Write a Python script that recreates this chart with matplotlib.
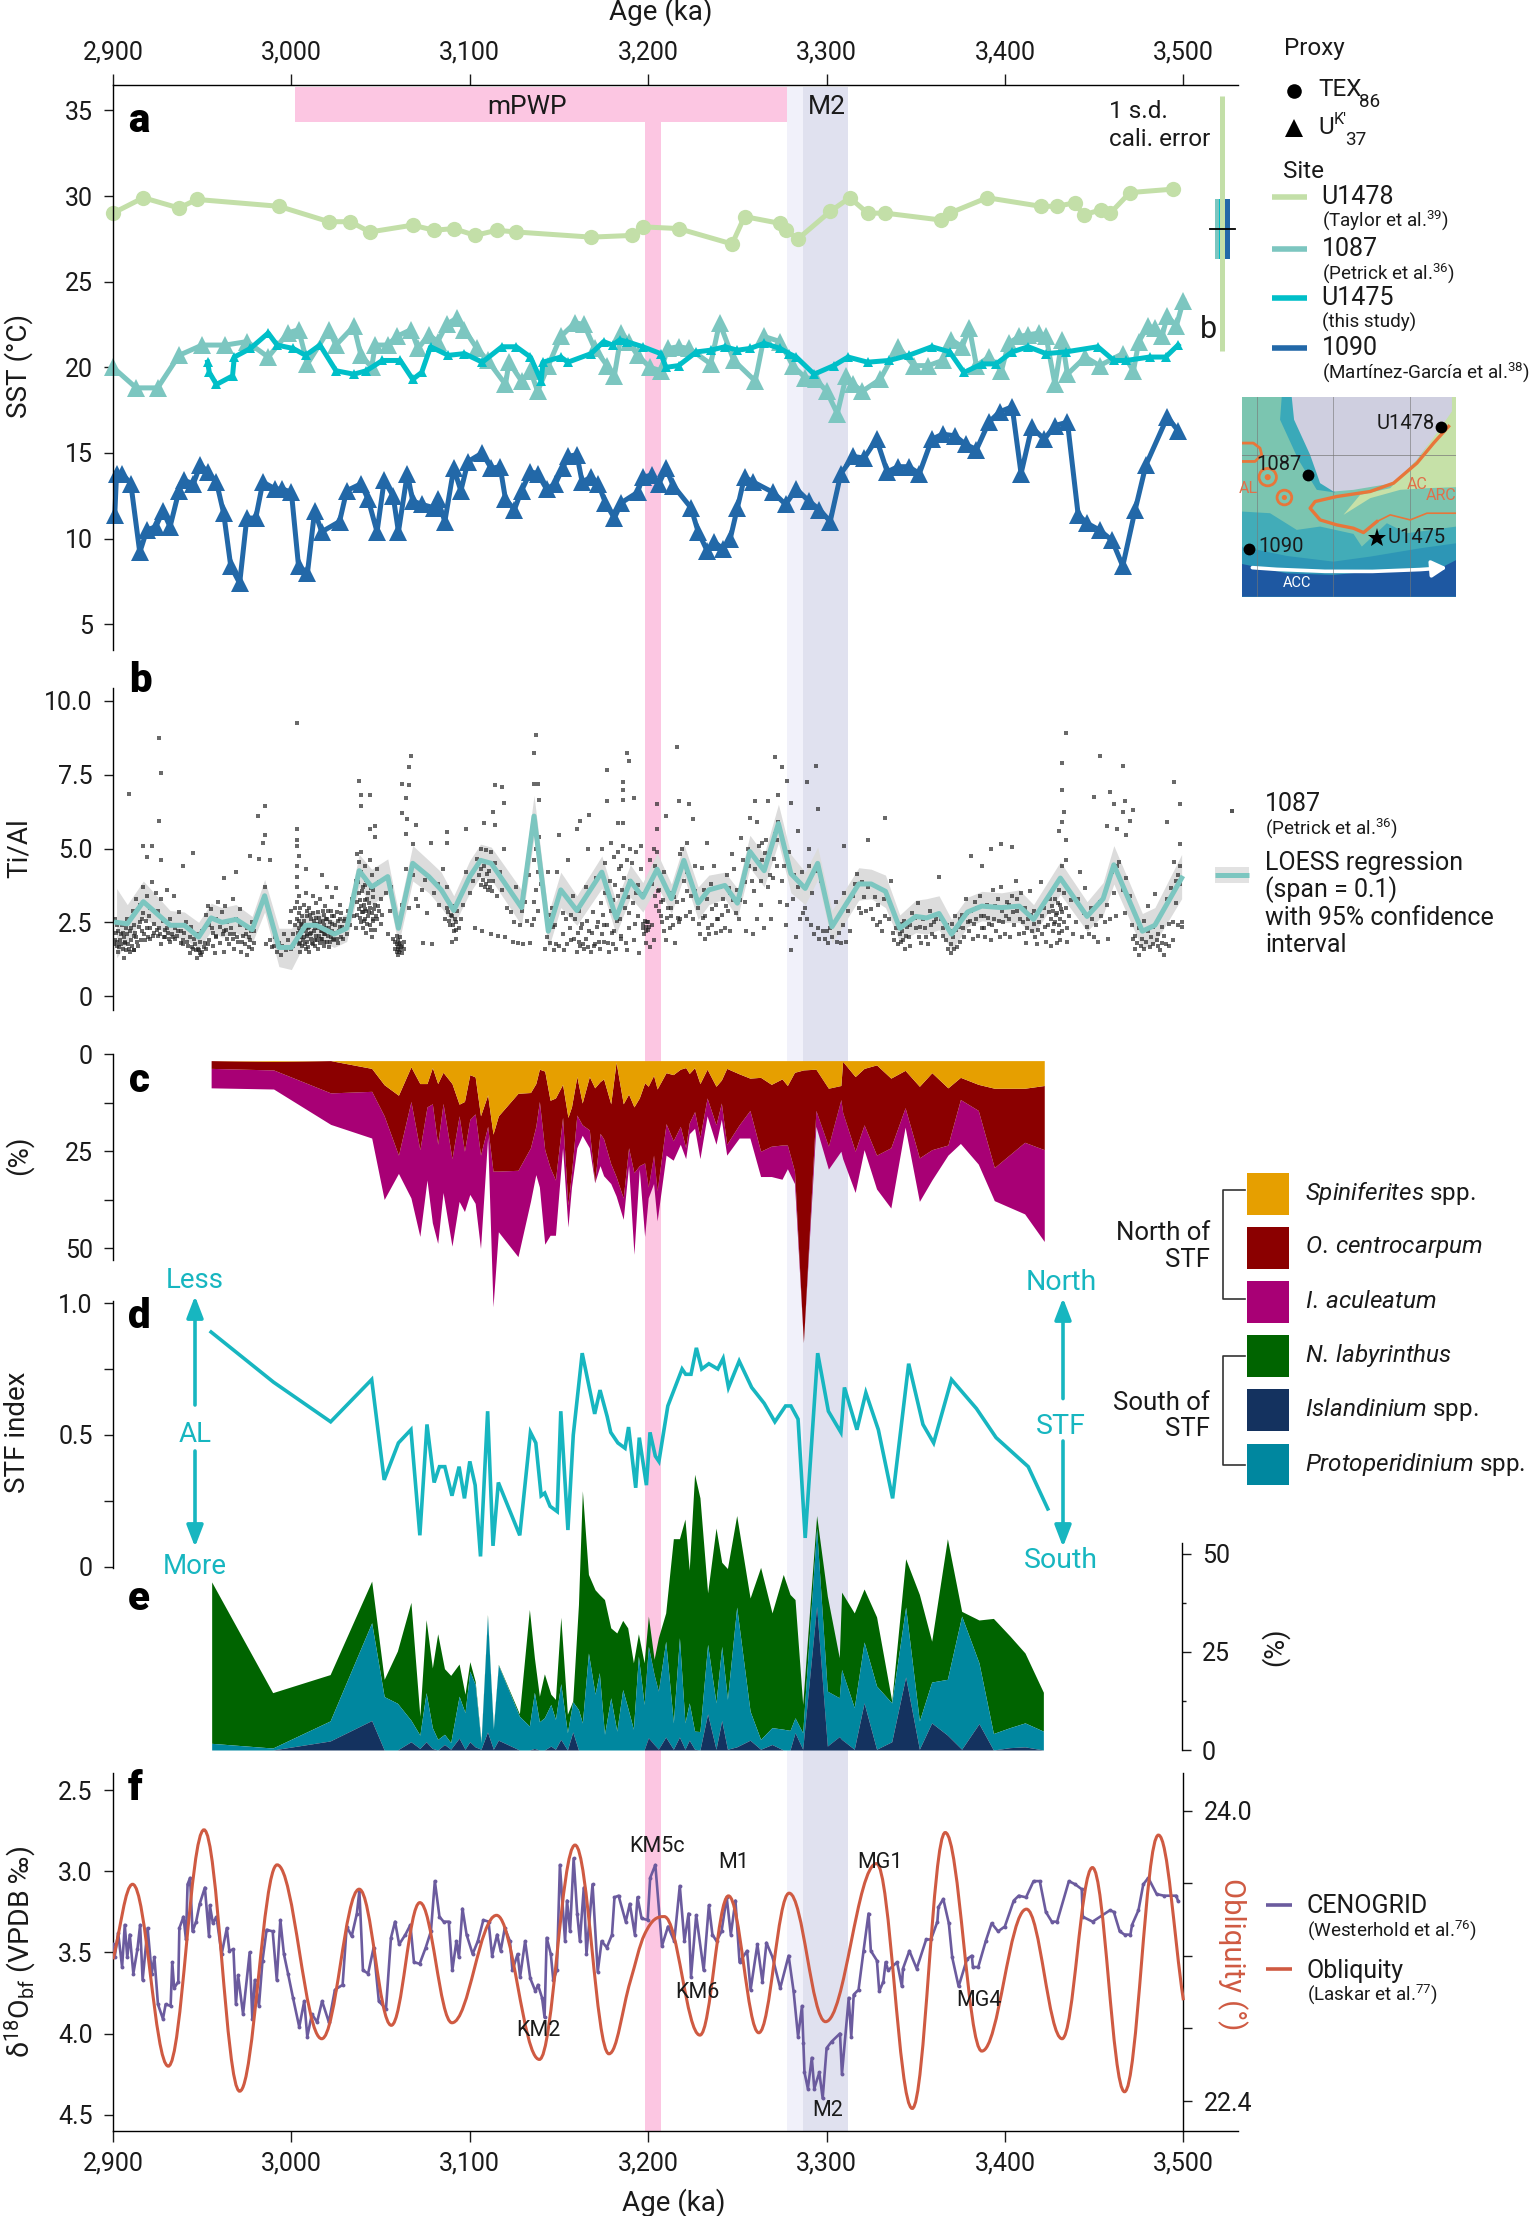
"""Pliocene SST, Ti/Al, dinocyst and benthic d18O stack (panels a-f)."""
import matplotlib
matplotlib.use('Agg')
import matplotlib.pyplot as plt
from matplotlib.patches import Circle, FancyArrowPatch, PathPatch, Polygon, Rectangle
from matplotlib.path import Path

plt.rcParams['font.family'] = ['Roboto', 'DejaVu Sans']
plt.rcParams['mathtext.fontset'] = 'custom'
plt.rcParams['mathtext.rm'] = 'Roboto'
plt.rcParams['mathtext.it'] = 'Roboto:italic'
plt.rcParams['mathtext.bf'] = 'Roboto:bold'
plt.rcParams['axes.linewidth'] = 1.0

W, H = 1532, 2216
XMIN, XMAX = 2900, 3530.6

# ----------------------------------------------------------------------
# Panel a: SST
# ----------------------------------------------------------------------
U1478_AGE = [2900, 2917, 2937, 2947, 2993, 3021, 3033, 3044, 3068, 3080, 3091, 3103, 3115, 3126, 3168, 3191,
             3197, 3217, 3247, 3254, 3274, 3277, 3284, 3302, 3313, 3323, 3333, 3364, 3369, 3390, 3420, 3429,
             3439, 3444, 3454, 3459, 3470, 3494]
U1478_SST = [29.0, 29.9, 29.3, 29.8, 29.4, 28.5, 28.5, 27.9, 28.3, 28.0, 28.1, 27.7, 28.0, 27.9, 27.6, 27.7,
             28.2, 28.1, 27.2, 28.8, 28.4, 28.0, 27.5, 29.1, 29.9, 29.0, 29.0, 28.6, 29.0, 29.9, 29.4, 29.4,
             29.6, 28.9, 29.2, 29.0, 30.2, 30.4]
S1087_AGE = [2900, 2913, 2925, 2937, 2950, 2963, 2975, 2987, 2998, 3004, 3009, 3021, 3025, 3035, 3039, 3045,
             3047, 3054, 3059, 3067, 3071, 3077, 3082, 3087, 3093, 3097, 3104, 3110, 3120, 3122, 3129, 3134,
             3138, 3144, 3151, 3159, 3164, 3170, 3177, 3181, 3185, 3189, 3194, 3201, 3207, 3211, 3217, 3223,
             3235, 3240, 3248, 3260, 3265, 3274, 3281, 3288, 3294, 3300, 3306, 3311, 3315, 3320, 3330, 3340,
             3349, 3357, 3365, 3370, 3376, 3380, 3384, 3391, 3398, 3402, 3408, 3413, 3419, 3423, 3428, 3432,
             3435, 3445, 3453, 3466, 3472, 3475, 3480, 3484, 3488, 3491, 3496, 3500]
S1087_SST = [20.0, 18.8, 18.8, 20.7, 21.3, 21.3, 21.5, 20.6, 22.0, 22.2, 20.2, 22.2, 21.3, 22.4, 20.7, 20.0,
             21.3, 21.3, 21.8, 22.2, 21.1, 21.9, 21.5, 22.5, 22.9, 22.2, 21.1, 20.4, 19.0, 20.3, 19.2, 19.8,
             18.6, 20.1, 21.8, 22.6, 22.5, 21.1, 20.1, 19.5, 22.0, 21.5, 20.7, 20.0, 19.8, 21.1, 21.2, 21.1,
             20.2, 22.6, 20.4, 19.2, 21.8, 21.5, 20.1, 19.4, 19.3, 18.6, 17.3, 19.5, 19.0, 18.6, 19.3, 21.2,
             20.1, 20.1, 20.4, 21.6, 21.2, 22.3, 20.1, 20.6, 19.8, 21.4, 21.8, 21.9, 22.0, 21.8, 19.0, 21.6,
             19.6, 20.6, 20.1, 20.8, 19.8, 21.5, 22.4, 22.3, 21.8, 23.0, 22.4, 23.9]
U1475_AGE = [2953, 2954, 2958, 2967, 2968, 2977, 2987, 2992, 3001, 3008, 3016, 3025, 3035, 3042, 3051, 3061,
             3068, 3073, 3078, 3088, 3097, 3107, 3118, 3126, 3134, 3140, 3141, 3151, 3155, 3168, 3175, 3180,
             3184, 3188, 3197, 3207, 3210, 3217, 3227, 3235, 3243, 3250, 3257, 3265, 3274, 3279, 3283, 3293,
             3304, 3312, 3323, 3335, 3346, 3359, 3369, 3377, 3387, 3395, 3404, 3413, 3423, 3434, 3452, 3461,
             3468, 3481, 3490, 3497]
U1475_SST = [20.3, 19.7, 19.0, 19.5, 20.6, 21.1, 22.0, 21.3, 21.1, 20.7, 21.3, 19.8, 19.6, 19.8, 20.4, 20.4,
             19.3, 19.7, 21.2, 20.7, 20.8, 20.3, 21.2, 21.2, 20.6, 19.2, 20.3, 20.6, 20.3, 20.8, 21.5, 21.3,
             21.6, 21.5, 21.2, 20.8, 20.0, 20.1, 20.9, 21.0, 21.2, 21.0, 21.1, 21.4, 21.1, 20.8, 20.6, 19.6,
             20.1, 20.6, 20.3, 20.4, 20.7, 21.2, 20.9, 19.7, 20.2, 20.2, 20.9, 21.2, 20.8, 20.9, 21.2, 20.4,
             20.4, 20.6, 20.6, 21.3]
S1090_AGE = [2901, 2902, 2905, 2910, 2915, 2919, 2924, 2928, 2932, 2937, 2940, 2945, 2949, 2953, 2958, 2962,
             2966, 2971, 2975, 2980, 2984, 2991, 2995, 3000, 3004, 3009, 3013, 3017, 3027, 3031, 3039, 3043,
             3048, 3052, 3057, 3060, 3065, 3068, 3073, 3080, 3082, 3086, 3091, 3095, 3099, 3107, 3112, 3117,
             3120, 3125, 3129, 3134, 3138, 3143, 3148, 3152, 3155, 3160, 3163, 3168, 3172, 3176, 3181, 3185,
             3194, 3197, 3202, 3206, 3210, 3214, 3224, 3228, 3233, 3237, 3242, 3246, 3250, 3254, 3259, 3270,
             3277, 3283, 3290, 3296, 3302, 3308, 3315, 3321, 3328, 3334, 3340, 3346, 3352, 3359, 3365, 3372,
             3378, 3384, 3391, 3397, 3404, 3409, 3415, 3422, 3428, 3435, 3441, 3446, 3453, 3460, 3466, 3473,
             3479, 3491, 3497]
S1090_SST = [11.4, 13.8, 13.8, 13.2, 9.2, 10.5, 10.7, 11.6, 10.7, 12.8, 13.4, 13.2, 14.3, 13.9, 13.3, 11.5,
             8.4, 7.4, 11.2, 11.2, 13.3, 12.9, 12.9, 12.7, 8.4, 8.0, 11.6, 10.4, 11.0, 12.8, 13.2, 12.3,
             10.4, 13.4, 12.5, 10.4, 13.8, 12.2, 12.0, 11.8, 12.3, 11.0, 14.1, 12.8, 14.5, 15.0, 14.1, 14.2,
             12.3, 11.7, 12.8, 13.9, 13.8, 12.9, 13.2, 14.1, 14.8, 14.9, 13.3, 13.6, 13.2, 12.1, 11.2, 12.1,
             12.7, 13.6, 13.7, 13.2, 14.1, 13.1, 11.8, 10.4, 9.3, 9.8, 9.4, 10.0, 11.8, 13.6, 13.3, 12.7,
             12.0, 12.9, 12.2, 11.7, 11.0, 13.8, 14.8, 14.7, 15.8, 13.9, 14.2, 14.2, 13.8, 15.8, 16.1, 16.0,
             15.5, 15.2, 16.8, 17.4, 17.7, 13.8, 16.5, 15.8, 16.6, 16.8, 11.4, 10.9, 10.5, 9.9, 8.4, 11.7,
             14.3, 17.1, 16.3]

# ----------------------------------------------------------------------
# Panel b: Ti/Al, LOESS fit and its confidence band
# ----------------------------------------------------------------------
LOESS_AGE = [2902, 2908, 2917, 2932, 2940, 2948, 2955, 2961, 2969, 2978, 2985, 2993, 3000, 3008, 3014, 3024,
             3031, 3038, 3045, 3054, 3060, 3068, 3077, 3084, 3091, 3100, 3106, 3112, 3129, 3136, 3144, 3151,
             3160, 3174, 3182, 3190, 3197, 3205, 3213, 3220, 3228, 3234, 3243, 3250, 3257, 3265, 3273, 3280,
             3288, 3295, 3303, 3318, 3325, 3333, 3341, 3350, 3356, 3363, 3370, 3379, 3387, 3398, 3408, 3416,
             3431, 3446, 3455, 3461, 3477, 3484, 3499]
LOESS_FIT = [2.5, 2.45, 3.2, 2.4, 2.4, 2.0, 2.65, 2.5, 2.6, 2.25, 3.4, 1.65, 1.65, 2.4, 2.4, 2.1,
             2.3, 4.25, 3.7, 4.05, 2.3, 4.5, 4.05, 3.6, 2.9, 4.05, 4.6, 4.5, 3.0, 6.1, 2.2, 3.6,
             2.9, 4.2, 2.65, 3.9, 3.35, 4.3, 3.3, 4.6, 3.15, 3.6, 3.75, 3.15, 4.9, 4.25, 5.85, 4.15,
             3.65, 4.5, 2.35, 3.8, 3.8, 3.55, 2.3, 2.7, 2.65, 2.8, 2.1, 2.85, 3.05, 3.0, 3.05, 2.6,
             4.0, 2.7, 3.3, 4.45, 2.2, 2.4, 4.0]
LOESS_LOW = [1.3, 1.8, 2.7, 2.0, 1.95, 1.6, 2.2, 2.0, 2.15, 1.8, 2.85, 1.0, 0.9, 1.85, 1.9, 1.65,
             1.85, 3.7, 3.1, 3.5, 1.75, 3.9, 3.5, 3.0, 2.4, 3.5, 4.05, 3.95, 2.4, 5.4, 1.6, 3.0,
             2.4, 3.65, 2.1, 3.35, 2.85, 3.75, 2.8, 4.05, 2.6, 3.1, 3.3, 2.65, 4.35, 3.7, 5.2, 3.5,
             3.1, 3.95, 1.8, 3.25, 3.3, 3.0, 1.85, 2.15, 2.1, 2.25, 1.55, 2.35, 2.55, 2.5, 2.5, 2.1,
             3.45, 2.2, 2.75, 3.8, 1.6, 1.8, 3.3]
LOESS_HIGH = [3.65, 3.1, 3.9, 2.9, 2.85, 2.5, 3.15, 3.0, 3.1, 2.7, 3.95, 2.3, 2.3, 2.9, 2.9, 2.55,
              2.8, 4.8, 4.3, 4.65, 2.85, 5.1, 4.6, 4.2, 3.4, 4.6, 5.15, 5.05, 3.6, 6.8, 2.8, 4.2,
              3.4, 4.75, 3.2, 4.45, 3.85, 4.85, 3.8, 5.15, 3.7, 4.1, 4.2, 3.65, 5.45, 4.8, 6.5, 4.8,
              4.2, 5.05, 2.9, 4.35, 4.3, 4.1, 2.75, 3.25, 3.3, 3.4, 2.6, 3.35, 3.55, 3.5, 3.6, 3.1,
              4.55, 3.2, 3.85, 5.1, 2.8, 3.0, 4.8]
TI_HIGH_POINTS = [(2909, 6.85), (2926, 8.75), (2927, 7.55), (2926, 5.95), (2917, 5.1), (2922, 5.1), (2919, 4.7),
                  (2927, 4.6), (2945, 4.85), (2939, 4.4), (2985, 6.45), (2981, 6.1), (2985, 5.45), (2984, 5.2),
                  (2977, 4.75), (2982, 4.65), (2988, 4.6), (2969, 4.2), (2962, 4.0), (3003, 9.25), (3003, 5.65),
                  (3003, 5.3), (3003, 5.1), (3004, 4.75), (3003, 4.4), (3008, 4.3), (3017, 4.1), (3038, 7.3),
                  (3039, 6.8), (3044, 6.8), (3039, 6.45), (3047, 5.75), (3044, 5.65), (3062, 7.2), (3066, 7.15),
                  (3067, 8.15), (3066, 7.75), (3064, 6.7), (3062, 6.2), (3065, 6.0), (3070, 5.8), (3064, 5.5),
                  (3068, 5.15), (3078, 5.2), (3087, 5.55), (3087, 5.2), (3098, 5.65), (3114, 7.15), (3118, 7.1),
                  (3108, 5.85), (3114, 5.8), (3113, 6.25), (3119, 6.55), (3137, 8.85), (3136, 8.25), (3136, 7.2),
                  (3138, 7.2), (3139, 6.65), (3162, 5.95), (3167, 6.15), (3150, 5.45), (3160, 5.65), (3177, 7.65),
                  (3188, 8.25), (3189, 7.95), (3186, 7.25), (3186, 7.0), (3177, 6.6), (3186, 6.65), (3192, 6.7),
                  (3183, 5.85), (3186, 5.85), (3205, 6.5), (3210, 6.1), (3216, 8.45), (3217, 6.6), (3223, 6.5),
                  (3225, 6.0), (3260, 6.6), (3257, 6.05), (3271, 8.1), (3275, 7.75), (3278, 7.3), (3273, 6.8),
                  (3267, 6.6), (3280, 6.55), (3261, 5.9), (3294, 7.8), (3289, 7.25), (3295, 6.35), (3333, 6.05),
                  (3310, 5.1), (3323, 5.3), (3434, 8.9), (3432, 7.9), (3432, 7.0), (3433, 6.25), (3432, 5.9),
                  (3430, 5.6), (3434, 5.3), (3453, 8.15), (3466, 7.8), (3450, 6.75), (3459, 6.9), (3461, 6.5),
                  (3467, 6.6), (3466, 6.25), (3472, 6.3), (3470, 5.95), (3457, 5.75), (3463, 5.65), (3468, 5.45),
                  (3495, 7.25), (3498, 6.5), (3491, 5.9), (3498, 5.15), (3392, 5.0), (3398, 5.15), (3404, 5.05),
                  (3381, 4.75), (3387, 4.4), (3272, 5.3), (3284, 5.6), (3276, 5.1), (3290, 5.0), (3264, 5.2),
                  (3252, 5.35), (3247, 4.8), (3233, 5.2), (3222, 5.2), (3205, 5.65), (3196, 5.1), (3190, 5.0)]
TI_CLOUD_2900 = [(2901, 1.9), (2901, 2.6), (2902, 1.7), (2903, 2.2), (2903, 1.5), (2904, 1.9), (2905, 2.4), (2906, 1.3),
                 (2906, 2.0), (2907, 1.8), (2908, 2.1), (2908, 2.6), (2909, 1.6), (2910, 2.3), (2910, 1.9), (2911, 2.9),
                 (2912, 2.4), (2912, 1.55), (2913, 3.3), (2913, 2.0), (2914, 1.7), (2915, 2.5), (2915, 3.1), (2916, 2.2),
                 (2917, 3.7), (2917, 2.8), (2918, 1.9), (2919, 3.4), (2919, 2.3), (2920, 2.7), (2921, 3.0), (2921, 1.95),
                 (2922, 3.85), (2923, 2.45), (2923, 2.15), (2924, 3.5), (2925, 2.05), (2925, 2.9), (2926, 2.3), (2927, 1.75),
                 (2927, 3.3), (2928, 2.55), (2929, 2.0), (2929, 2.25), (2930, 3.6), (2931, 2.15), (2932, 1.85), (2932, 2.6),
                 (2933, 2.1), (2934, 3.4), (2935, 1.95), (2935, 2.3), (2936, 2.05), (2937, 2.85), (2938, 2.2), (2938, 1.8),
                 (2939, 1.9), (2940, 2.15), (2941, 2.5), (2942, 1.7), (2943, 1.45), (2943, 2.0), (2944, 2.35), (2945, 1.6),
                 (2946, 1.75), (2947, 1.3), (2947, 2.1), (2948, 1.55), (2949, 1.85), (2950, 1.5), (2950, 2.2), (2951, 1.65),
                 (2952, 2.75), (2952, 1.6), (2953, 3.05), (2954, 2.4), (2954, 1.9), (2955, 2.95), (2956, 2.15), (2956, 1.7),
                 (2957, 1.45), (2958, 2.6), (2958, 2.0), (2959, 3.2), (2960, 1.8), (2960, 2.35), (2961, 2.85), (2962, 1.5),
                 (2962, 2.2), (2963, 3.05), (2964, 2.5), (2964, 1.95), (2965, 1.75), (2966, 2.3), (2967, 3.3), (2968, 1.6),
                 (2968, 2.1), (2969, 2.6), (2970, 1.85), (2971, 2.4), (2971, 2.95), (2972, 1.5), (2973, 2.05), (2974, 1.75),
                 (2975, 2.3), (2975, 1.4), (2976, 2.0), (2977, 1.9), (2978, 2.5), (2978, 1.6), (2979, 2.2), (2979, 1.8),
                 (2985, 3.7), (2985, 3.3), (2986, 1.75), (2988, 1.9), (2989, 1.65), (2990, 1.7), (2991, 2.0), (2992, 1.5),
                 (2993, 1.8), (2994, 1.4), (2995, 1.7), (2996, 2.1), (2997, 1.55), (2998, 1.9)]
TI_DENSE_2900 = [(2900.5, 1.75), (2901.5, 2.15), (2902.5, 1.85), (2902.5, 2.4), (2903.5, 1.65), (2904.5, 2.1), (2904.5, 1.75),
                 (2905.5, 1.6), (2905.5, 2.15), (2906.5, 1.85), (2907.5, 1.55), (2907.5, 2.3), (2908.5, 1.75), (2909.5, 2.2),
                 (2909.5, 1.5), (2910.5, 1.7), (2911.5, 2.05), (2911.5, 1.55), (2912.5, 2.15), (2913.5, 1.85), (2914.5, 2.35),
                 (2915.5, 1.9), (2916.5, 2.6), (2917.5, 2.1), (2918.5, 2.55), (2919.5, 2.0), (2920.5, 2.3), (2922.5, 2.05),
                 (2924.5, 2.25), (2926.5, 2.1), (2928.5, 2.0), (2930.5, 2.3), (2931.5, 1.95), (2933.5, 2.0), (2936.5, 2.2),
                 (2939.5, 1.75), (2941.5, 1.85), (2944.5, 1.65), (2945.5, 1.95), (2946.5, 1.55), (2947.5, 1.6), (2948.5, 1.45),
                 (2949.5, 1.4), (2951.5, 1.8), (2953.5, 1.75), (2955.5, 2.3), (2957.5, 2.05), (2961.5, 2.1), (2963.5, 2.25),
                 (2965.5, 2.1), (2967.5, 1.95), (2969.5, 2.0), (2972.5, 1.85), (2974.5, 2.1), (2976.5, 1.65), (2977.5, 2.2)]
TI_CLOUD_3000 = [(2999, 2.5), (3000, 1.6), (3000, 2.9), (3001, 2.1), (3001, 1.7), (3002, 2.4), (3002, 3.0), (3003, 1.9),
                 (3003, 2.6), (3003, 3.2), (3003, 3.7), (3003, 4.05), (3004, 2.0), (3004, 2.3), (3004, 2.8), (3004, 3.4),
                 (3005, 1.5), (3005, 1.8), (3005, 2.2), (3005, 3.0), (3006, 2.7), (3006, 1.7), (3006, 2.4), (3007, 2.0),
                 (3007, 3.1), (3007, 2.55), (3008, 1.6), (3008, 2.25), (3008, 3.5), (3009, 1.85), (3009, 2.9), (3009, 2.1),
                 (3010, 1.5), (3010, 2.35), (3010, 3.0), (3011, 2.6), (3011, 1.95), (3011, 2.15), (3012, 1.75), (3012, 2.8),
                 (3012, 3.4), (3013, 2.45), (3013, 1.9), (3014, 2.05), (3014, 3.15), (3014, 2.65), (3015, 1.6), (3015, 2.3),
                 (3015, 2.85), (3016, 1.8), (3016, 2.5), (3016, 3.3), (3017, 2.2), (3017, 1.95), (3018, 2.75), (3018, 1.7),
                 (3018, 2.4), (3019, 3.05), (3019, 2.1), (3020, 1.85), (3020, 2.6), (3020, 3.7), (3021, 2.3), (3021, 1.65),
                 (3022, 2.9), (3022, 2.0), (3023, 2.45), (3023, 3.35), (3024, 1.9), (3024, 2.7), (3025, 2.15), (3025, 3.65),
                 (3026, 2.55), (3026, 1.8), (3027, 2.35), (3027, 3.1), (3028, 2.0), (3028, 2.8), (3029, 2.25), (3029, 1.95),
                 (3030, 2.6), (3031, 2.1), (3032, 2.9), (3033, 2.4), (3034, 3.3), (3035, 2.7), (3036, 3.9), (3036, 2.3),
                 (3037, 4.8), (3037, 3.2), (3037, 2.75), (3038, 4.55), (3038, 3.5), (3038, 2.95), (3039, 4.9), (3039, 4.2),
                 (3039, 3.05), (3039, 2.5), (3040, 3.7), (3040, 2.85), (3040, 2.3), (3041, 4.4), (3041, 3.25), (3041, 2.6),
                 (3042, 3.95), (3042, 2.9), (3042, 2.15), (3043, 3.5), (3043, 2.7), (3044, 4.6), (3044, 3.0), (3044, 2.4),
                 (3045, 4.1), (3045, 2.8), (3045, 2.0), (3046, 3.6), (3046, 2.55), (3047, 5.4), (3047, 3.1), (3047, 2.25),
                 (3048, 4.3), (3048, 2.6), (3049, 3.85), (3049, 2.9), (3050, 3.3), (3050, 2.45), (3051, 2.75), (3053, 3.5),
                 (3054, 2.1), (3055, 2.9), (3056, 3.7), (3057, 1.95), (3058, 1.6), (3058, 1.85), (3059, 1.5), (3059, 1.75),
                 (3059, 2.05), (3060, 1.4), (3060, 1.65), (3060, 1.9), (3061, 1.55), (3061, 1.8), (3061, 2.0), (3062, 1.45),
                 (3062, 1.7), (3062, 3.1), (3063, 1.6), (3063, 1.85), (3064, 4.3), (3066, 3.0), (3068, 4.1), (3070, 3.3),
                 (3071, 3.05), (3073, 3.6), (3074, 1.8), (3075, 3.95), (3076, 2.8), (3079, 1.75), (3080, 3.5), (3082, 3.8),
                 (3083, 3.1), (3085, 4.3), (3086, 2.6), (3087, 3.0), (3087, 3.7), (3088, 2.85), (3089, 2.4), (3090, 1.85),
                 (3090, 2.7), (3091, 2.2), (3091, 3.05), (3092, 2.5), (3092, 1.95), (3093, 2.9), (3094, 2.3), (3095, 2.6),
                 (3096, 3.1), (3098, 4.2), (3100, 3.5), (3102, 3.9), (3103, 2.3), (3104, 4.65), (3105, 4.1), (3106, 3.75),
                 (3106, 5.0), (3107, 2.2), (3108, 4.4), (3109, 3.8), (3109, 4.95), (3110, 3.6), (3111, 4.25), (3112, 2.1),
                 (3112, 4.9), (3113, 3.9), (3114, 4.5), (3115, 3.4), (3116, 2.05), (3117, 4.2), (3118, 3.6), (3119, 5.0),
                 (3120, 2.0), (3121, 3.0), (3123, 2.85), (3124, 1.85), (3125, 2.5), (3126, 3.7), (3127, 1.8), (3128, 2.4),
                 (3129, 2.9), (3130, 1.75), (3131, 3.2), (3132, 2.55), (3133, 4.1), (3134, 1.8), (3135, 2.4), (3136, 2.6),
                 (3136, 3.2), (3136, 4.6), (3137, 3.6), (3137, 5.0), (3138, 2.9), (3138, 4.2), (3139, 5.4), (3140, 3.8)]
TI_DENSE_3000 = [(3003.5, 2.15), (3004.5, 2.55), (3004.5, 1.75), (3005.5, 2.45), (3005.5, 2.0), (3006.5, 1.9), (3006.5, 2.2),
                 (3007.5, 1.75), (3007.5, 2.35), (3008.5, 2.05), (3008.5, 2.7), (3009.5, 2.3), (3009.5, 1.65), (3010.5, 2.1),
                 (3010.5, 2.75), (3011.5, 1.8), (3011.5, 2.4), (3012.5, 2.2), (3012.5, 2.55), (3013.5, 1.7), (3013.5, 2.3),
                 (3014.5, 2.45), (3014.5, 1.9), (3015.5, 2.05), (3015.5, 2.65), (3016.5, 2.2), (3016.5, 1.95), (3017.5, 2.55),
                 (3017.5, 2.9), (3018.5, 2.1), (3018.5, 1.85), (3019.5, 2.6), (3019.5, 2.3), (3020.5, 2.05), (3020.5, 2.9),
                 (3021.5, 2.5), (3021.5, 1.85), (3022.5, 2.2), (3022.5, 2.7), (3023.5, 1.95), (3023.5, 2.15), (3024.5, 2.4),
                 (3025.5, 2.85), (3025.5, 1.95), (3026.5, 2.2), (3027.5, 2.6), (3028.5, 2.35), (3029.5, 2.55), (3037.5, 3.85),
                 (3038.5, 3.25), (3038.5, 2.65), (3039.5, 3.55), (3039.5, 2.85), (3040.5, 3.1), (3040.5, 2.55), (3041.5, 3.75),
                 (3041.5, 2.95), (3042.5, 3.3), (3042.5, 2.45), (3043.5, 3.15), (3043.5, 2.85), (3044.5, 3.65), (3044.5, 2.25),
                 (3045.5, 3.35), (3045.5, 2.6), (3046.5, 2.95), (3047.5, 2.7), (3048.5, 3.05), (3059.5, 1.6), (3060.5, 1.75),
                 (3060.5, 1.5), (3061.5, 1.65), (3088.5, 2.55), (3089.5, 2.75), (3090.5, 2.4), (3091.5, 2.6), (3092.5, 2.25),
                 (3106.5, 4.3), (3107.5, 3.95), (3108.5, 3.7), (3109.5, 4.15), (3110.5, 3.9), (3111.5, 3.7), (3112.5, 3.55)]
TI_CLOUD_3150 = [(3142, 1.6), (3143, 2.0), (3144, 4.2), (3145, 1.8), (3146, 3.0), (3147, 1.55), (3148, 2.4), (3149, 4.2),
                 (3150, 1.7), (3151, 3.5), (3152, 2.1), (3153, 1.55), (3154, 2.6), (3155, 4.6), (3156, 2.3), (3157, 1.9),
                 (3158, 3.4), (3159, 2.6), (3160, 1.5), (3161, 1.85), (3161, 2.9), (3162, 1.7), (3163, 2.45), (3164, 1.6),
                 (3165, 3.7), (3165, 1.95), (3166, 5.0), (3167, 2.2), (3168, 1.5), (3169, 2.85), (3170, 1.75), (3171, 4.0),
                 (3172, 2.5), (3173, 1.6), (3174, 5.0), (3174, 2.1), (3175, 1.85), (3176, 3.5), (3176, 4.5), (3177, 2.4),
                 (3178, 1.5), (3179, 5.2), (3179, 2.9), (3180, 1.75), (3181, 4.7), (3181, 2.2), (3182, 1.6), (3183, 4.9),
                 (3183, 3.4), (3184, 2.6), (3185, 1.95), (3185, 4.4), (3186, 5.1), (3187, 3.0), (3188, 1.55), (3188, 4.6),
                 (3189, 2.3), (3190, 3.9), (3191, 4.5), (3192, 1.9), (3193, 3.5), (3193, 4.9), (3194, 2.7), (3195, 1.45),
                 (3196, 4.3), (3197, 2.45), (3197, 2.3), (3198, 2.55), (3199, 2.35), (3199, 1.8), (3200, 2.5), (3200, 2.25),
                 (3201, 4.6), (3201, 1.65), (3202, 2.4), (3202, 3.8), (3203, 5.0), (3203, 1.9), (3204, 3.4), (3204, 4.4),
                 (3205, 4.9), (3206, 3.6), (3206, 2.9), (3207, 2.7), (3207, 3.2), (3208, 2.5), (3209, 4.2), (3209, 2.2),
                 (3210, 1.9), (3211, 3.0), (3212, 2.3), (3213, 3.5), (3213, 2.7), (3214, 2.4), (3215, 1.8), (3216, 3.2),
                 (3217, 2.5), (3218, 4.8), (3218, 2.6), (3219, 5.0), (3220, 3.9), (3221, 2.7), (3222, 4.2), (3224, 3.4),
                 (3225, 2.6), (3226, 4.4), (3228, 3.0), (3229, 2.1), (3230, 4.35), (3231, 3.6), (3232, 2.7), (3232, 1.95),
                 (3233, 3.3), (3234, 2.1), (3235, 3.8), (3236, 2.4), (3237, 4.4), (3238, 3.1), (3238, 2.15), (3239, 2.6),
                 (3240, 3.7), (3241, 2.2), (3242, 3.3), (3243, 2.3), (3244, 4.1), (3245, 2.9), (3246, 3.5), (3246, 2.2),
                 (3248, 4.3), (3249, 2.8), (3250, 3.6), (3251, 2.6), (3253, 4.6), (3254, 3.2), (3255, 2.2), (3256, 5.0),
                 (3258, 3.9), (3259, 2.1), (3260, 4.3), (3261, 2.6), (3262, 5.1), (3263, 3.1), (3264, 4.6), (3265, 2.3),
                 (3266, 5.3), (3267, 3.7), (3268, 4.9), (3269, 2.6), (3270, 4.0), (3271, 5.5), (3272, 4.4), (3273, 5.9),
                 (3274, 3.2), (3275, 3.9), (3276, 4.4), (3277, 2.4), (3278, 3.1), (3279, 4.9), (3280, 1.55), (3281, 3.3)]
TI_DENSE_3150 = [(3144.5, 2.75), (3146.5, 2.35), (3148.5, 1.75), (3152.5, 2.8), (3154.5, 1.75), (3156.5, 2.75), (3158.5, 1.95),
                 (3160.5, 2.15), (3162.5, 2.3), (3163.5, 1.75), (3165.5, 2.55), (3166.5, 1.65), (3168.5, 2.15), (3169.5, 1.7),
                 (3171.5, 2.35), (3172.5, 1.85), (3173.5, 3.15), (3174.5, 2.75), (3175.5, 2.4), (3177.5, 1.8), (3178.5, 3.9),
                 (3179.5, 2.15), (3180.5, 3.25), (3181.5, 3.75), (3182.5, 2.55), (3183.5, 4.3), (3184.5, 2.05), (3185.5, 3.6),
                 (3186.5, 4.0), (3187.5, 1.8), (3188.5, 3.35), (3189.5, 2.8), (3191.5, 3.15), (3192.5, 2.45), (3194.5, 3.75),
                 (3196.5, 3.45), (3197.5, 2.1), (3198.5, 2.2), (3199.5, 2.5), (3200.5, 2.35), (3204.5, 3.05), (3205.5, 3.55),
                 (3206.5, 4.1), (3208.5, 3.25), (3210.5, 2.65), (3212.5, 3.0), (3214.5, 3.35), (3216.5, 2.65), (3219.5, 3.25),
                 (3221.5, 3.55), (3223.5, 2.85), (3226.5, 3.55), (3228.5, 2.45), (3230.5, 2.65), (3233.5, 2.3), (3235.5, 2.95),
                 (3238.5, 2.6), (3241.5, 2.75), (3243.5, 3.05), (3245.5, 3.65), (3247.5, 3.25), (3251.5, 3.25), (3254.5, 3.85),
                 (3256.5, 4.4), (3259.5, 3.55), (3261.5, 4.55), (3263.5, 3.9), (3265.5, 4.85), (3268.5, 4.1), (3270.5, 4.65)]
TI_CLOUD_3280 = [(3282, 4.1), (3283, 2.0), (3284, 3.7), (3285, 2.6), (3286, 4.2), (3287, 2.8), (3288, 3.0), (3289, 2.6),
                 (3290, 4.4), (3291, 2.4), (3292, 3.5), (3293, 2.1), (3294, 4.25), (3295, 2.3), (3296, 1.95), (3297, 3.9),
                 (3298, 2.2), (3299, 1.95), (3300, 2.2), (3301, 1.8), (3302, 2.3), (3303, 2.0), (3305, 3.2), (3306, 1.85),
                 (3307, 2.15), (3308, 1.8), (3309, 2.4), (3310, 3.5), (3311, 1.85), (3312, 2.9), (3313, 2.2), (3315, 3.4),
                 (3316, 3.8), (3317, 4.15), (3318, 3.0), (3319, 2.8), (3320, 3.85), (3321, 3.35), (3322, 2.9), (3323, 3.7),
                 (3325, 2.95), (3326, 2.6), (3327, 3.35), (3328, 2.4), (3329, 3.1), (3330, 2.5), (3331, 2.2), (3332, 3.3),
                 (3333, 2.7), (3335, 2.6), (3336, 3.9), (3337, 2.15), (3338, 1.9), (3339, 2.3), (3340, 1.75), (3341, 2.1),
                 (3342, 2.45), (3343, 1.9), (3344, 1.6), (3345, 2.35), (3346, 2.0), (3347, 1.7), (3348, 2.8), (3350, 2.3),
                 (3351, 3.15), (3352, 2.0), (3353, 1.8), (3354, 2.6), (3355, 2.3), (3357, 1.75), (3358, 2.9), (3359, 2.1),
                 (3360, 2.5), (3361, 2.0), (3363, 4.05), (3364, 2.6), (3365, 2.3), (3367, 1.9), (3368, 1.6), (3369, 2.2),
                 (3370, 1.45), (3371, 2.0), (3372, 2.7), (3373, 1.65), (3374, 2.35), (3375, 1.85), (3376, 2.75), (3377, 2.0),
                 (3378, 3.3), (3379, 2.5), (3380, 2.2), (3381, 2.9), (3382, 1.95), (3383, 3.2), (3384, 2.6), (3385, 2.05),
                 (3386, 3.4), (3387, 2.3), (3388, 2.7), (3389, 2.0), (3390, 3.1), (3391, 2.45), (3392, 1.9), (3393, 3.6),
                 (3394, 2.6), (3395, 2.2), (3396, 3.3), (3397, 2.0), (3398, 3.7), (3399, 2.5), (3400, 2.1), (3401, 3.2),
                 (3402, 2.6), (3403, 2.0), (3404, 3.4), (3405, 2.4), (3406, 3.9), (3407, 2.9), (3408, 2.1), (3409, 3.5),
                 (3410, 2.5), (3411, 3.0), (3412, 1.8), (3413, 2.6), (3414, 3.55), (3415, 2.2), (3416, 2.9), (3417, 2.0),
                 (3418, 1.75), (3419, 2.5), (3420, 3.85), (3421, 2.1), (3422, 3.0), (3423, 1.85), (3424, 2.4), (3425, 3.3),
                 (3426, 2.6), (3426, 1.7), (3427, 2.9), (3427, 2.2), (3428, 3.3), (3428, 2.5), (3429, 1.8), (3429, 2.8)]
TI_DENSE_3340 = [(3340.5, 2.35), (3341.5, 1.85), (3342.5, 2.2), (3343.5, 2.55), (3344.5, 2.05), (3346.5, 2.4), (3349.5, 2.65),
                 (3352.5, 2.35), (3355.5, 2.0), (3358.5, 2.4), (3361.5, 2.6), (3365.5, 2.05), (3367.5, 2.4), (3369.5, 1.75),
                 (3370.5, 2.45), (3371.5, 1.6), (3372.5, 2.25), (3374.5, 2.6), (3376.5, 2.3), (3378.5, 2.8), (3380.5, 2.55),
                 (3382.5, 2.45), (3384.5, 3.0), (3386.5, 2.7), (3388.5, 2.3), (3390.5, 2.65), (3392.5, 2.4), (3394.5, 3.05),
                 (3396.5, 2.55), (3398.5, 2.9), (3400.5, 2.7), (3402.5, 3.1), (3404.5, 2.85), (3406.5, 3.3), (3408.5, 2.6),
                 (3410.5, 2.15), (3412.5, 2.3), (3414.5, 2.75), (3416.5, 2.45), (3418.5, 2.25), (3420.5, 2.7), (3422.5, 2.35),
                 (3424.5, 2.85), (3426.5, 3.05), (3427.5, 2.45), (3428.5, 2.75), (3429.5, 3.15), (3430.5, 2.15), (3431.5, 2.95)]
TI_CLOUD_3430 = [(3430, 3.6), (3430, 2.4), (3431, 2.6), (3431, 3.1), (3431, 1.9), (3432, 2.2), (3432, 2.85), (3432, 4.4),
                 (3433, 3.5), (3433, 2.5), (3434, 4.6), (3434, 3.0), (3435, 1.85), (3435, 2.3), (3436, 2.7), (3437, 3.25),
                 (3438, 2.1), (3440, 2.5), (3441, 3.3), (3442, 4.2), (3443, 2.0), (3444, 2.8), (3445, 3.65), (3446, 2.35),
                 (3447, 2.1), (3448, 3.0), (3449, 2.6), (3450, 2.0), (3451, 2.4), (3452, 1.85), (3453, 3.2), (3454, 2.7),
                 (3456, 2.5), (3457, 3.1), (3458, 1.95), (3459, 2.6), (3460, 4.2), (3461, 3.5), (3462, 2.7), (3463, 4.4),
                 (3464, 4.55), (3466, 3.6), (3467, 2.8), (3468, 4.0), (3470, 3.4), (3471, 2.4), (3472, 1.95), (3473, 1.6),
                 (3473, 2.05), (3474, 1.8), (3475, 1.4), (3475, 2.3), (3476, 1.7), (3477, 1.95), (3478, 2.55), (3478, 1.6),
                 (3479, 1.85), (3480, 2.2), (3480, 3.05), (3481, 1.65), (3482, 2.0), (3483, 1.75), (3483, 2.35), (3484, 3.45),
                 (3485, 1.9), (3486, 1.7), (3486, 2.1), (3487, 1.55), (3488, 2.35), (3488, 1.8), (3489, 1.4), (3489, 2.05),
                 (3490, 1.75), (3491, 3.3), (3492, 2.45), (3492, 1.7), (3493, 3.65), (3494, 2.5), (3494, 1.9), (3495, 4.55),
                 (3496, 3.15), (3497, 2.4), (3498, 4.4), (3498, 3.8), (3499, 2.5), (3499, 2.35), (3496, 3.9), (3497, 4.1)]

# ----------------------------------------------------------------------
# Panel c: cumulative dinocyst percentages (top down)
# ----------------------------------------------------------------------
NORTH_AGE = [2955, 2990, 3022, 3045, 3052, 3060, 3067, 3072, 3076, 3079, 3082, 3085, 3090, 3094, 3097, 3100,
             3103, 3106, 3110, 3113, 3116, 3127, 3134, 3137, 3139, 3142, 3145, 3148, 3152, 3155, 3157, 3160,
             3163, 3167, 3170, 3173, 3175, 3179, 3182, 3186, 3189, 3192, 3195, 3198, 3200, 3203, 3205, 3210,
             3214, 3218, 3221, 3223, 3226, 3229, 3233, 3238, 3241, 3244, 3251, 3257, 3263, 3269, 3275, 3278,
             3282, 3287, 3294, 3301, 3308, 3309, 3316, 3321, 3328, 3336, 3344, 3352, 3359, 3368, 3375, 3385,
             3394, 3411, 3422]
SPIN_EDGE = [1.7, 1.9, 1.7, 3.7, 7.9, 10.6, 3.3, 7.6, 7.6, 3.5, 7.6, 4.7, 7.6, 12.9, 12.2, 5.3,
             5.9, 15.9, 10.5, 20.6, 15.9, 10.1, 9.9, 7.6, 3.9, 4.4, 11.9, 11.3, 7.8, 16.3, 13.6, 5.8,
             12.6, 5.8, 8.7, 7.1, 6.4, 12.8, 2.1, 12.8, 10.3, 13.6, 11.3, 7.4, 8.3, 5.5, 9.0, 4.8,
             5.3, 3.9, 3.5, 5.0, 3.5, 7.6, 3.9, 8.3, 6.7, 3.7, 5.1, 6.2, 6.0, 7.8, 6.4, 8.1,
             4.7, 4.1, 3.9, 8.8, 8.1, 1.9, 5.8, 3.7, 2.8, 6.2, 4.2, 8.3, 4.8, 8.7, 6.0, 7.8,
             8.8, 8.8, 8.1]
OCEN_EDGE = [3.7, 4.1, 10.0, 9.6, 15.9, 26.0, 12.2, 24.6, 13.6, 12.8, 23.2, 12.7, 26.9, 15.9, 25.0, 16.8,
             15.4, 26.0, 18.6, 30.1, 30.1, 29.9, 24.1, 18.6, 12.2, 24.6, 29.2, 32.4, 16.3, 38.8, 30.5, 15.7,
             18.2, 19.5, 32.9, 20.4, 21.8, 28.2, 31.5, 37.0, 24.1, 30.5, 28.7, 28.0, 34.2, 26.0, 35.2, 17.9,
             22.3, 18.6, 24.1, 17.7, 14.8, 21.4, 11.3, 18.2, 12.6, 23.2, 18.2, 14.5, 25.0, 23.7, 23.4, 23.4,
             30.1, 74.2, 14.5, 23.7, 11.7, 15.0, 25.0, 18.2, 26.0, 24.1, 13.8, 26.7, 24.6, 23.4, 11.7, 14.5,
             29.2, 22.7, 24.6]
IACU_EDGE = [8.7, 9.0, 18.1, 21.6, 37.4, 30.7, 37.0, 46.9, 32.4, 43.4, 48.7, 35.6, 49.4, 37.9, 40.5, 36.1,
             38.4, 50.0, 21.4, 65.0, 45.7, 52.1, 37.9, 31.0, 34.2, 48.9, 46.6, 46.6, 24.1, 44.5, 34.2, 24.1,
             20.9, 24.1, 33.1, 28.7, 31.3, 33.3, 36.5, 42.5, 28.7, 51.5, 29.6, 46.9, 37.0, 33.3, 42.9, 26.0,
             27.3, 23.2, 26.9, 20.5, 19.1, 26.9, 15.9, 23.2, 16.8, 26.0, 21.6, 21.6, 31.5, 31.5, 32.2, 29.5,
             33.3, 74.2, 18.6, 29.6, 25.0, 26.9, 35.6, 24.6, 34.7, 39.6, 18.8, 37.9, 32.4, 26.0, 23.0, 28.3,
             37.7, 41.1, 48.2]
STACK_TOP = 1.7

# ----------------------------------------------------------------------
# Panel d: STF index
# ----------------------------------------------------------------------
STF_AGE = [2955, 2990, 3022, 3045, 3052, 3060, 3067, 3072, 3076, 3080, 3083, 3086, 3090, 3094, 3097, 3100,
           3103, 3106, 3110, 3113, 3116, 3128, 3134, 3137, 3140, 3142, 3145, 3149, 3151, 3155, 3158, 3163,
           3170, 3173, 3177, 3179, 3183, 3187, 3189, 3193, 3195, 3199, 3201, 3204, 3206, 3211, 3219, 3221,
           3224, 3227, 3230, 3234, 3239, 3242, 3245, 3251, 3258, 3265, 3271, 3277, 3280, 3284, 3288, 3295,
           3301, 3308, 3310, 3317, 3322, 3329, 3337, 3346, 3354, 3360, 3370, 3384, 3395, 3413, 3424]
STF_INDEX = [0.89, 0.70, 0.55, 0.71, 0.33, 0.47, 0.52, 0.12, 0.54, 0.32, 0.38, 0.38, 0.27, 0.38, 0.26, 0.40,
             0.31, 0.04, 0.59, 0.08, 0.32, 0.12, 0.51, 0.47, 0.27, 0.28, 0.23, 0.21, 0.59, 0.14, 0.50, 0.81,
             0.58, 0.67, 0.57, 0.51, 0.47, 0.45, 0.53, 0.30, 0.49, 0.31, 0.51, 0.42, 0.40, 0.61, 0.75, 0.73,
             0.73, 0.83, 0.75, 0.77, 0.75, 0.79, 0.68, 0.78, 0.68, 0.62, 0.55, 0.61, 0.61, 0.56, 0.11, 0.81,
             0.59, 0.51, 0.68, 0.52, 0.66, 0.52, 0.26, 0.77, 0.54, 0.47, 0.71, 0.60, 0.49, 0.38, 0.22]

# ----------------------------------------------------------------------
# Panel e: cumulative dinocyst percentages (bottom up)
# ----------------------------------------------------------------------
SOUTH_AGE = [2955.3, 2989.5, 3021.7, 3045, 3052, 3059.4, 3067, 3072, 3075.5, 3079, 3082, 3085.8, 3089.3, 3094, 3097.3,
             3100, 3103, 3106.3, 3109.9, 3113.2, 3116, 3127.8, 3133.4, 3136.2, 3139, 3141.8, 3145.4, 3148, 3151,
             3154.7, 3157.7, 3160.9, 3163.1, 3166.5, 3170.2, 3172.6, 3175.5, 3179, 3182.4, 3185.7, 3188.5, 3191.7,
             3194.5, 3197.7, 3200.1, 3203.3, 3205.7, 3209.8, 3214.1, 3217.5, 3220.6, 3223, 3226, 3229, 3233.3, 3238,
             3241.2, 3244.4, 3249.6, 3257.1, 3263, 3269.4, 3275.7, 3279.5, 3282.3, 3286.6, 3294.4, 3300.4, 3307.1,
             3308.4, 3315.5, 3321, 3328, 3336.5, 3344.3, 3352, 3358.9, 3367.7, 3375.7, 3385.4, 3393.5, 3402.8,
             3411.2, 3421.5]
ISLA_EDGE = [0, 0, 2.3, 7.5, 0, 0, 2.1, 0.4, 2.1, 0.4, 0, 1.4, 0.2, 3.0, 0.2,
             2.1, 0.8, 0.2, 4.6, 0.2, 2.5, 0, 0, 0.4, 0, 0, 1.0, 0.2, 2.7,
             0, 4.6, 0, 0, 0, 0, 0, 0, 0, 0, 0, 0, 0,
             0, 0, 3.1, 1.4, 0.2, 3.3, 0.2, 3.3, 0.2, 2.5, 0.2, 0, 9.2, 0.2,
             7.5, 0.2, 0.8, 2.5, 0.2, 1.4, 0, 0, 4.4, 0.2, 36.6, 1.0, 3.4,
             2.7, 0.2, 12.0, 0.2, 2.1, 18.6, 0.2, 6.9, 3.8, 0.2, 6.7, 0, 0.6,
             0.8, 0]
PROT_EDGE = [1.7, 0.5, 7.4, 32.4, 13.6, 11.9, 7.6, 3.8, 14.6, 5.7, 2.7, 4.0, 1.9, 13.7, 9.5,
             20.1, 16.7, 1.9, 34.1, 5.3, 21.6, 8.6, 6.1, 14.7, 7.2, 8.2, 11.6, 7.8, 16.9,
             4.4, 12.3, 10.3, 6.9, 24.7, 14.2, 19.7, 4.0, 13.3, 4.8, 15.4, 10.8, 5.3,
             23.9, 11.6, 26.4, 19.2, 15.0, 27.7, 6.9, 28.6, 6.9, 12.0, 4.8, 4.7, 26.9, 12.0,
             26.4, 12.9, 36.4, 9.9, 2.7, 5.7, 5.3, 5.0, 8.2, 4.4, 56.5, 15.0, 13.3,
             20.5, 10.8, 27.5, 16.3, 12.0, 36.4, 7.4, 17.3, 18.0, 34.1, 22.2, 4.2, 5.7,
             6.9, 4.8]
NLAB_EDGE = [42.8, 14.6, 19.2, 43.0, 18.0, 25.2, 37.6, 8.6, 33.2, 20.9, 29.6, 20.7, 19.0, 21.9, 14.2,
             22.5, 17.5, 2.3, 34.5, 5.7, 21.8, 9.2, 35.8, 23.5, 13.7, 19.4, 14.2, 12.9, 33.8,
             9.1, 12.5, 37.0, 66.0, 44.7, 40.8, 39.6, 38.3, 31.1, 29.8, 33.0, 31.1, 22.2,
             29.6, 22.2, 34.1, 23.1, 28.6, 34.9, 53.8, 53.8, 58.8, 45.8, 70.2, 64.2, 40.0, 56.5,
             47.8, 46.2, 59.7, 38.7, 46.5, 34.9, 44.7, 39.6, 38.3, 11.6, 59.7, 39.2, 23.5,
             40.2, 34.9, 41.0, 33.9, 12.5, 48.7, 39.6, 27.7, 53.8, 35.3, 33.1, 33.5, 29.0,
             24.7, 14.7]

# ----------------------------------------------------------------------
# Panel f: benthic d18O and obliquity (obliquity as turning points)
# ----------------------------------------------------------------------
CENO_AGE = [2900.0, 2900.9, 2902.9, 2905.1, 2906.6, 2908.0, 2909.4, 2911.4, 2913.7, 2915.2, 2916.6, 2919.4, 2921.7, 2923.2,
            2925.2, 2928.0, 2929.5, 2932.3, 2933.2, 2934.3, 2936.6, 2937.2, 2939.5, 2940.9, 2941.8, 2943.2, 2944.6, 2946.6,
            2948.6, 2951.5, 2953.8, 2954.3, 2956.0, 2958.0, 2960.9, 2963.8, 2965.2, 2967.5, 2968.9, 2970.1, 2972.9, 2976.6,
            2978.1, 2979.5, 2981.8, 2983.8, 2986.1, 2989.5, 2991.8, 2993.8, 2995.8, 2998.1, 3000.9, 3004.4, 3007.2, 3008.9,
            3011.5, 3014.4, 3017.2, 3021.0, 3024.4, 3028.7, 3031.0, 3033.8, 3036.7, 3038.1, 3040.1, 3043.0, 3046.1, 3049.0,
            3053.0, 3055.8, 3058.1, 3060.4, 3063.9, 3066.7, 3068.7, 3071.9, 3075.3, 3078.2, 3080.4, 3083.0, 3085.3, 3088.2,
            3090.2, 3092.5, 3093.9, 3095.9, 3098.2, 3101.6, 3104.5, 3107.6, 3110.5, 3112.5, 3115.3, 3117.3, 3119.6, 3122.5,
            3123.9, 3126.8, 3128.2, 3131.0, 3133.9, 3136.8, 3138.2, 3140.5, 3141.9, 3143.1, 3145.4, 3146.8, 3148.8, 3150.5,
            3153.4, 3154.5, 3156.2, 3158.2, 3160.2, 3161.7, 3163.9, 3165.4, 3168.8, 3171.7, 3173.9, 3176.8, 3179.7, 3181.1,
            3183.4, 3187.4, 3189.7, 3192.5, 3194.0, 3196.3, 3199.7, 3201.1, 3204.0, 3207.7, 3211.1, 3214.6, 3217.7, 3220.3,
            3222.6, 3224.0, 3226.9, 3231.1, 3234.0, 3236.0, 3238.3, 3241.1, 3244.0, 3246.3, 3248.9, 3251.2, 3255.4, 3257.4,
            3261.2, 3264.0, 3266.3, 3269.7, 3274.0, 3278.7, 3281.5, 3284.0, 3286.2, 3287.0, 3287.6, 3289.5, 3291.7, 3293.1,
            3295.9, 3297.8, 3300.0, 3302.8, 3307.5, 3308.6, 3312.4, 3313.8, 3315.2, 3317.9, 3320.7, 3323.5, 3324.8, 3328.2,
            3329.5, 3331.8, 3333.1, 3334.5, 3339.5, 3342.2, 3342.8, 3346.4, 3350.5, 3355.8, 3358.5, 3362.1, 3362.7, 3365.4,
            3368.5, 3370.4, 3374.0, 3378.7, 3381.4, 3382.0, 3385.0, 3389.2, 3392.5, 3396.1, 3399.9, 3404.9, 3407.7, 3411.8,
            3416.0, 3419.5, 3422.9, 3426.2, 3429.2, 3435.8, 3439.4, 3443.0, 3443.6, 3449.1, 3458.8, 3461.0, 3464.3, 3467.0,
            3470.3, 3471.2, 3474.8, 3477.5, 3480.3, 3485.0, 3489.1, 3496.0, 3496.9]
CENO_D18O = [3.45, 3.53, 3.38, 3.59, 3.33, 3.53, 3.39, 3.63, 3.48, 3.33, 3.67, 3.35, 3.63, 3.53,
             3.82, 3.91, 3.82, 3.83, 3.56, 3.72, 3.68, 3.35, 3.28, 3.42, 3.08, 3.04, 3.37, 3.31,
             3.20, 3.10, 3.40, 3.21, 3.32, 3.28, 3.51, 3.35, 3.49, 3.48, 3.82, 3.64, 3.88, 3.50,
             3.91, 3.67, 3.83, 3.55, 3.36, 3.37, 3.67, 3.30, 3.51, 3.63, 3.78, 3.96, 3.80, 4.02,
             3.88, 3.93, 3.80, 3.93, 3.73, 3.70, 3.34, 3.40, 3.26, 3.12, 3.61, 3.63, 3.47, 3.80,
             3.85, 3.41, 3.31, 3.45, 3.39, 3.33, 3.56, 3.57, 3.47, 3.37, 3.06, 3.28, 3.31, 3.31,
             3.61, 3.43, 3.53, 3.23, 3.39, 3.51, 3.43, 3.30, 3.31, 3.52, 3.39, 3.49, 3.35, 3.43,
             3.61, 3.51, 3.65, 3.43, 3.66, 3.74, 3.70, 3.78, 3.90, 3.41, 3.51, 3.67, 3.61, 2.96,
             3.43, 3.18, 3.37, 2.92, 3.26, 3.43, 3.10, 3.51, 3.08, 3.62, 3.43, 3.47, 3.39, 3.16,
             3.15, 3.31, 3.20, 3.39, 3.16, 3.29, 3.30, 3.04, 2.96, 3.46, 3.34, 3.43, 3.09, 3.43,
             3.26, 3.65, 3.27, 3.61, 3.21, 3.39, 3.43, 3.37, 3.16, 3.39, 3.18, 3.56, 3.49, 3.73,
             3.45, 3.68, 3.44, 3.53, 3.72, 3.52, 3.74, 4.02, 3.83, 4.06, 4.24, 4.34, 4.15, 4.34,
             4.24, 4.40, 4.09, 4.05, 4.00, 4.25, 3.78, 4.02, 3.76, 3.73, 3.49, 3.26, 3.49, 3.55,
             3.74, 3.68, 3.56, 3.61, 3.56, 3.71, 3.60, 3.49, 3.60, 3.42, 3.42, 3.31, 3.22, 3.17,
             3.32, 3.53, 3.71, 3.54, 3.52, 3.59, 3.59, 3.43, 3.32, 3.37, 3.34, 3.18, 3.15, 3.16,
             3.06, 3.06, 3.25, 3.31, 3.31, 3.06, 3.08, 3.11, 3.28, 3.31, 3.24, 3.25, 3.37, 3.39,
             3.39, 3.33, 3.24, 3.08, 3.04, 3.14, 3.15, 3.15, 3.18]
OBLIQ_AGE = [2900, 2911, 2931, 2951, 2971, 2992, 3017, 3038, 3056, 3072, 3090, 3115, 3139, 3159, 3178, 3190, 3198, 3209,
             3229, 3245, 3262, 3279, 3299.4, 3328, 3348, 3366.5, 3387, 3412, 3432, 3449, 3467, 3486, 3500]
OBLIQ_DEG = [23.181, 23.594, 22.592, 23.894, 22.454, 23.701, 22.743, 23.567, 22.817, 23.493, 22.831, 23.423, 22.629,
             23.810, 22.660, 23.061, 23.319, 23.416, 22.763, 23.530, 22.776, 23.545, 22.837, 23.708, 22.359, 23.879,
             22.675, 23.457, 22.743, 23.686, 22.451, 23.865, 22.955]

XTICKS = [2900, 3000, 3100, 3200, 3300, 3400, 3500]

# colours
C_1478, C_1087, C_1475, C_1090 = '#c3dfa8', '#7cc6c0', '#00bfc8', '#2268a8'
C_SPIN, C_OCEN, C_IACU = '#e69f00', '#8b0000', '#a80075'
C_NLAB, C_ISLA, C_PROT = '#006400', '#14325f', '#00879f'
C_STF, C_PURPLE, C_OBL = '#17b6c0', '#6b5b9e', '#cf5a42'
INK = '#1a1a1a'
TICK_FS = 18
TEXT_FS = 17.5
SMALL_FS = 13.6

fig = plt.figure(figsize=(W / 100, H / 100), dpi=100, facecolor='white')


def px_axes(top, bottom, zorder=1, left=113, right=1238):
    """Axes placed by pixel edges, all sharing the same age scale."""
    ax = fig.add_axes([left / W, 1 - bottom / H, (right - left) / W, (bottom - top) / H], zorder=zorder)
    ax.patch.set_visible(False)
    ax.set_xlim(XMIN, XMAX)
    for side in ('top', 'right', 'bottom'):
        ax.spines[side].set_visible(False)
    ax.xaxis.set_visible(False)
    ax.tick_params(axis='y', length=6.5, width=1, pad=8, labelsize=TICK_FS, colors=INK)
    return ax


# ----------------------------------------------------------------------
# Background bands + shared age axis
# ----------------------------------------------------------------------
AX_TOP, AX_BOT = 85, 2130.6
frac = lambda py: (AX_BOT - py) / (AX_BOT - AX_TOP)
bg = fig.add_axes([113 / W, 1 - AX_BOT / H, 1125 / W, (AX_BOT - AX_TOP) / H], zorder=0)
bg.set_xlim(XMIN, XMAX)
bg.set_ylim(0, 1)
bg.patch.set_visible(False)
bg.axvspan(3002, 3278, frac(121.6), frac(87), color='#fcc6e2', lw=0)
bg.axvspan(3198.3, 3207, 0, frac(121.6), color='#fcc6e2', lw=0)
bg.axvspan(3278, 3287, 0, frac(87), color='#f1f1fa', lw=0)
bg.axvspan(3287, 3312, 0, frac(87), color='#e0e1ef', lw=0)
for side in ('left', 'right'):
    bg.spines[side].set_visible(False)
bg.set_yticks([])
bg.set_xticks(XTICKS)
bg.set_xticklabels([f'{t:,}' for t in XTICKS])
bg.tick_params(axis='x', top=True, bottom=True, labeltop=True, labelbottom=True,
               length=8, width=1, pad=7, labelsize=TICK_FS, colors=INK)

# Panel a ---------------------------------------------------------------
ax_a = px_axes(85, 650)
ax_a.set_ylim(3.5, 36.48)
ax_a.set_yticks([5, 10, 15, 20, 25, 30, 35])
ax_a.plot(U1478_AGE, U1478_SST, '-o', color=C_1478, lw=3.6, ms=11, mew=0, clip_on=False)
ax_a.plot(S1087_AGE, S1087_SST, '-^', color=C_1087, lw=3.6, ms=13, mew=0, clip_on=False)
ax_a.plot(U1475_AGE, U1475_SST, '-^', color=C_1475, lw=3.6, ms=6.5, mew=0, clip_on=False)
ax_a.plot(S1090_AGE, S1090_SST, '-^', color=C_1090, lw=3.6, ms=13, mew=0, clip_on=False)

# Panel b ---------------------------------------------------------------
ax_b = px_axes(688, 1010)
ax_b.set_ylim(-0.47, 10.44)
ax_b.set_yticks([0, 2.5, 5, 7.5, 10])
ax_b.set_yticklabels(['0', '2.5', '5.0', '7.5', '10.0'])
ti_points = (TI_HIGH_POINTS + TI_CLOUD_2900 + TI_DENSE_2900 + TI_CLOUD_3000 + TI_DENSE_3000 + TI_CLOUD_3150
             + TI_DENSE_3150 + TI_CLOUD_3280 + TI_DENSE_3340 + TI_CLOUD_3430)
ax_b.fill_between(LOESS_AGE, LOESS_LOW, LOESS_HIGH, color='#dcdcdc', lw=0, zorder=1)
ax_b.scatter([p[0] for p in ti_points], [p[1] for p in ti_points], marker='s', s=10, c='#222222',
             alpha=0.68, linewidths=0, zorder=2)
ax_b.plot(LOESS_AGE, LOESS_FIT, color=C_1087, lw=3.6, zorder=3)

# Panel c ---------------------------------------------------------------
ax_c = px_axes(1054, 1260)
ax_c.set_ylim(52.96, 0)
ax_c.set_yticks([0, 12.5, 25, 37.5, 50])
ax_c.set_yticklabels(['0', '', '25', '', '50'])
ax_c.fill_between(NORTH_AGE, IACU_EDGE, OCEN_EDGE, color=C_IACU, lw=0, clip_on=False)
ax_c.fill_between(NORTH_AGE, OCEN_EDGE, SPIN_EDGE, color=C_OCEN, lw=0, clip_on=False)
ax_c.fill_between(NORTH_AGE, SPIN_EDGE, STACK_TOP, color=C_SPIN, lw=0, clip_on=False)

# Panel d ---------------------------------------------------------------
ax_d = px_axes(1301, 1567.5)
ax_d.set_ylim(-0.002, 1.0076)
ax_d.set_yticks([0, 0.25, 0.5, 0.75, 1.0])
ax_d.set_yticklabels(['0', '', '0.5', '', '1.0'])
ax_d.plot(STF_AGE, STF_INDEX, color=C_STF, lw=2.6, solid_joinstyle='miter', clip_on=False, zorder=5)

# Panel e ---------------------------------------------------------------
ax_e = px_axes(1543, 1750)
ax_e.set_ylim(0, 52.7)
ax_e.spines['left'].set_visible(False)
ax_e.spines['right'].set_visible(True)
ax_e.spines['right'].set_position(('data', 3499.2))
ax_e.yaxis.tick_right()
ax_e.set_yticks([0, 25, 50])
ax_e.set_yticks([12.5, 37.5], minor=True)
ax_e.tick_params(axis='y', which='minor', length=3, width=1, colors=INK)
ax_e.fill_between(SOUTH_AGE, PROT_EDGE, NLAB_EDGE, color=C_NLAB, lw=0, clip_on=False)
ax_e.fill_between(SOUTH_AGE, ISLA_EDGE, PROT_EDGE, color=C_PROT, lw=0, clip_on=False)
ax_e.fill_between(SOUTH_AGE, 0, ISLA_EDGE, color=C_ISLA, lw=0, clip_on=False)

# Panel f ---------------------------------------------------------------
ax_f = px_axes(1773, AX_BOT)
ax_f.set_ylim(4.599, 2.393)
ax_f.set_yticks([2.5, 3.0, 3.5, 4.0, 4.5])
ax_f.plot(CENO_AGE, CENO_D18O, '-o', color=C_PURPLE, lw=1.9, ms=2.8, mew=0, zorder=4)

ax_o = px_axes(1773, AX_BOT, zorder=2)
ax_o.set_ylim(22.237, 24.207)
ax_o.spines['left'].set_visible(False)
ax_o.spines['right'].set_visible(True)
ax_o.spines['right'].set_position(('data', 3500))
ax_o.yaxis.tick_right()
ax_o.set_yticks([22.4, 22.8, 23.2, 23.6, 24.0])
ax_o.set_yticklabels(['22.4', '', '', '', '24.0'])
# smooth curve through the read turning points (flat tangents at extrema)
slopes = [(OBLIQ_DEG[i + 1] - OBLIQ_DEG[i]) / (OBLIQ_AGE[i + 1] - OBLIQ_AGE[i]) for i in range(len(OBLIQ_AGE) - 1)]
tang = [slopes[0]] + [0 if slopes[i - 1] * slopes[i] <= 0 else 0.5 * (slopes[i - 1] + slopes[i])
                      for i in range(1, len(slopes))] + [slopes[-1]]
verts, codes = [(OBLIQ_AGE[0], OBLIQ_DEG[0])], [Path.MOVETO]
for i in range(len(slopes)):
    h = OBLIQ_AGE[i + 1] - OBLIQ_AGE[i]
    verts += [(OBLIQ_AGE[i] + 0.38 * h, OBLIQ_DEG[i] + tang[i] * 0.38 * h),
              (OBLIQ_AGE[i + 1] - 0.38 * h, OBLIQ_DEG[i + 1] - tang[i + 1] * 0.38 * h),
              (OBLIQ_AGE[i + 1], OBLIQ_DEG[i + 1])]
    codes += [Path.CURVE4] * 3
ax_o.add_patch(PathPatch(Path(verts, codes), fc='none', ec=C_OBL, lw=2.2, zorder=3))

# ----------------------------------------------------------------------
# Pixel overlay: labels, legends, arrows
# ----------------------------------------------------------------------
ov = fig.add_axes([0, 0, 1, 1], zorder=10)
ov.set_xlim(0, W)
ov.set_ylim(H, 0)
ov.axis('off')


def label(x, y, s, fs=TEXT_FS, ha='left', va='center', **kw):
    kw.setdefault('color', INK)
    return ov.text(x, y, s, fontsize=fs, ha=ha, va=va, **kw)


label(661, 12, 'Age (ka)', fs=20, ha='center')
label(674, 2203, 'Age (ka)', fs=20, ha='center')
label(19, 366, 'SST (°C)', fs=20, ha='center', rotation=90)
label(19, 848, 'Ti/Al', fs=20, ha='center', rotation=90)
label(19, 1155, '(%)', fs=20, ha='center', rotation=90)
label(18, 1432, 'STF index', fs=20, ha='center', rotation=90)
label(21, 1952, r'δ$^{18}$O$_{\mathregular{bf}}$ (VPDB ‰)', fs=20.5, ha='center', rotation=90)
label(1232, 1954, 'Obliquity (°)', fs=21, ha='center', rotation=270, color=C_OBL)
label(1275, 1647, '(%)', fs=19.5, ha='center', rotation=90)

for s, x, y in [('a', 139, 121), ('b', 140, 680), ('c', 139, 1080), ('d', 139, 1316), ('e', 139, 1598), ('f', 135, 1788)]:
    label(x, y, s, fs=29, ha='center', fontweight='black', color='black')

label(527, 106.5, 'mPWP', fs=19, ha='center')
label(826.5, 106.5, 'M2', fs=19, ha='center')
label(1109, 111.5, '1 s.d.', fs=17.5)
label(1109, 139, 'cali. error', fs=17.5)

# 1 s.d. calibration error bars
ov.plot([1222, 1222], [96, 351], color=C_1478, lw=3.6, solid_capstyle='butt')
ov.add_patch(Rectangle((1214.7, 199), 4.6, 60, fc=C_1087, ec='none'))
ov.add_patch(Rectangle((1219.3, 199), 4.8, 60, fc=C_1475, ec='none'))
ov.add_patch(Rectangle((1224.1, 199), 5.4, 60, fc=C_1090, ec='none'))
ov.plot([1210, 1235], [229, 229], color='black', lw=1.3)
label(1208, 330, 'b', fs=22, ha='center')

# Proxy / site legend
label(1284, 48, 'Proxy')
ov.plot(1294, 90.5, 'o', color='black', ms=10.5, mew=0)
ov.plot(1294, 128, '^', color='black', ms=12.5, mew=0)
label(1318, 90, 'TEX')
label(1358.5, 102, '86', fs=SMALL_FS)
label(1318, 128, 'U')
label(1334, 119, "K'", fs=SMALL_FS - 2)
label(1345, 140, '37', fs=SMALL_FS)
label(1283, 171, 'Site')
site_rows = [(196.5, 220.5, C_1478, 'U1478', '(Taylor et al.$^{39}$)'),
             (249, 273, C_1087, '1087', '(Petrick et al.$^{36}$)'),
             (298, 322, C_1475, 'U1475', '(this study)'),
             (348, 372.5, C_1090, '1090', '(Martínez-García et al.$^{38}$)')]
for y0, y1, c, name, ref in site_rows:
    ov.plot([1272, 1307], [y0, y0], color=c, lw=4, solid_capstyle='butt')
    label(1321.5, y0, name, fs=18)
    label(1321.5, y1, ref, fs=SMALL_FS)

# Panel b legend
ov.plot(1232, 810.6, 's', color='#555555', ms=3.2, mew=0)
label(1265, 804, '1087', fs=18)
label(1265, 828.6, '(Petrick et al.$^{36}$)', fs=SMALL_FS)
ov.add_patch(Rectangle((1215, 867), 34, 15.5, fc='#e2e2e2', ec='none'))
ov.plot([1215, 1249], [874.7, 874.7], color=C_1087, lw=3.6, solid_capstyle='butt')
for y, s in [(863, 'LOESS regression'), (890, '(span = 0.1)'), (918, 'with 95% confidence'), (945, 'interval')]:
    label(1265, y, s, fs=18)

# Dinocyst legend
dino_rows = [(1173, C_SPIN, r'$\mathit{Spiniferites}$ spp.'),
             (1227, C_OCEN, r'$\mathit{O.\/centrocarpum}$'),
             (1281, C_IACU, r'$\mathit{I.\/aculeatum}$'),
             (1335, C_NLAB, r'$\mathit{N.\/labyrinthus}$'),
             (1389, C_ISLA, r'$\mathit{Islandinium}$ spp.'),
             (1443.6, C_PROT, r'$\mathit{Protoperidinium}$ spp.')]
for y, c, s in dino_rows:
    ov.add_patch(Rectangle((1247, y), 41.6, 41.5, fc=c, ec='none'))
    label(1305, y + 20.5, s, fs=17.5)
ov.plot([1245, 1223, 1223, 1245], [1190, 1190, 1298.6, 1298.6], color='#333333', lw=1.2)
ov.plot([1245, 1223, 1223, 1245], [1356, 1356, 1464.6, 1464.6], color='#333333', lw=1.2)
label(1210, 1233, 'North of', ha='right', fs=18.5)
label(1210, 1260, 'STF', ha='right', fs=18.5)
label(1210, 1403, 'South of', ha='right', fs=18.5)
label(1210, 1429, 'STF', ha='right', fs=18.5)


def teal_arrow(x, y0, y1):
    ov.add_patch(FancyArrowPatch((x, y0), (x, y1), arrowstyle='-|>,head_width=5,head_length=13', lw=2.6,
                                 color=C_STF, shrinkA=0, shrinkB=0, mutation_scale=1))


teal_arrow(195, 1405, 1296)
teal_arrow(195, 1451, 1547)
teal_arrow(1063, 1398.6, 1298)
teal_arrow(1063, 1441, 1547)
label(195, 1281, 'Less', ha='center', color=C_STF, fs=20)
label(195, 1434.6, 'AL', ha='center', color=C_STF, fs=20)
label(195, 1566, 'More', ha='center', color=C_STF, fs=20)
label(1061, 1283, 'North', ha='center', color=C_STF, fs=20.5)
label(1061, 1426, 'STF', ha='center', color=C_STF, fs=20.5)
label(1061, 1561, 'South', ha='center', color=C_STF, fs=20.5)

# Panel f labels + legend
for x, y, s in [(657, 1846, 'KM5c'), (734, 1863, 'M1'), (697.5, 1993, 'KM6'), (538, 2031, 'KM2'),
                (880, 1863, 'MG1'), (979, 2000, 'MG4'), (827.5, 2110, 'M2')]:
    label(x, y, s, fs=15.5, ha='center')
ov.plot([1266, 1292], [1905, 1905], color=C_PURPLE, lw=2.6, solid_capstyle='butt')
ov.plot([1266, 1292], [1969, 1969], color=C_OBL, lw=2.6, solid_capstyle='butt')
label(1307, 1906, 'CENOGRID', fs=18)
label(1307, 1930, '(Westerhold et al.$^{76}$)', fs=SMALL_FS)
label(1307, 1971, 'Obliquity', fs=18)
label(1307, 1994, '(Laskar et al.$^{77}$)', fs=SMALL_FS)

# ----------------------------------------------------------------------
# Site map (drawn in its own 0-based frame)
# ----------------------------------------------------------------------
mp = fig.add_axes([1242 / W, 1 - 596.7 / H, 214.3 / W, 199.7 / H], zorder=11)
mp.set_xlim(66, 708)
mp.set_ylim(650, 52)
mp.axis('off')
mp.add_patch(Rectangle((66, 52), 642, 598, fc='#7bc5b0', ec='none'))
mp.add_patch(Polygon([(690, 52), (708, 52), (708, 322), (620, 325), (540, 330), (450, 355), (370, 405),
                      (420, 345), (510, 325), (600, 230), (670, 120)], fc='#c6e1a8', ec='none'))
mp.add_patch(Polygon([(66, 395), (150, 400), (230, 450), (300, 440), (400, 462), (425, 500), (500, 430),
                      (560, 460), (708, 440), (708, 650), (66, 650)], fc='#42acb8', ec='none'))
mp.add_patch(Polygon([(66, 500), (200, 528), (340, 545), (450, 530), (600, 505), (708, 490), (708, 650), (66, 650)],
                     fc='#2d96b6', ec='none'))
mp.add_patch(Polygon([(66, 552), (200, 580), (340, 585), (500, 570), (650, 570), (708, 540), (708, 650), (66, 650)],
                     fc='#1e58a2', ec='none'))
mp.add_patch(Polygon([(185, 52), (180, 120), (235, 240), (290, 330), (345, 338), (300, 250), (240, 52)],
                     fc='#3aa9b9', ec='none'))
mp.add_patch(Polygon([(215, 52), (695, 52), (695, 95), (650, 160), (590, 240), (520, 310), (400, 330), (340, 335),
                      (300, 310), (270, 225), (222, 120)], fc='#cfcfe0', ec='none'))
for gx in (112, 340, 568):
    mp.plot([gx, gx], [52, 650], color='#777777', lw=0.7, alpha=0.6)
mp.plot([66, 708], [225, 225], color='#777777', lw=0.7, alpha=0.7)
mp.plot([685, 640, 590, 520, 450, 350, 285, 270, 300, 350, 400, 430, 470], [140, 190, 250, 310, 335, 350, 365, 385,
        420, 435, 445, 458, 425], color='#e8763a', lw=2.4, solid_joinstyle='round')
mp.plot([470, 510, 570, 620, 708], [425, 405, 420, 400, 400], color='#e8763a', lw=1.2)
for cx, cy, r in [(143, 292, 26), (193, 353, 22)]:
    mp.add_patch(Circle((cx, cy), r, fc='none', ec='#e8763a', lw=2))
    mp.add_patch(Circle((cx, cy), r * 0.35, fc='#e8763a', ec='none'))
mp.plot([66, 100, 120, 125, 105, 66], [190, 190, 205, 225, 245, 245], color='#e8763a', lw=2)
mp.plot(662, 142, 'o', color='black', ms=8.5, mew=0)
mp.plot(264, 285, 'o', color='black', ms=8.5, mew=0)
mp.plot(87, 508, 'o', color='black', ms=8.5, mew=0)
mp.plot(470, 475, '*', color='black', ms=14, mew=0)
mp.text(642, 132, 'U1478', fontsize=14.5, ha='right', va='center', color=INK)
mp.text(243, 255, '1087', fontsize=14.5, ha='right', va='center', color=INK)
mp.text(115, 500, '1090', fontsize=14.5, ha='left', va='center', color=INK)
mp.text(503, 472, 'U1475', fontsize=14.5, ha='left', va='center', color=INK)
mp.text(85, 325, 'AL', fontsize=11.5, ha='center', va='center', color='#e0704a')
mp.text(590, 315, 'AC', fontsize=11.5, ha='center', va='center', color='#e0704a')
mp.text(662, 348, 'ARC', fontsize=11.5, ha='center', va='center', color='#e0704a')
mp.text(230, 610, 'ACC', fontsize=10.5, ha='center', va='center', color='white')
mp.add_patch(FancyArrowPatch((97, 563), (680, 563), connectionstyle='arc3,rad=0.04', color='white', lw=2.6,
                             arrowstyle='-|>,head_width=5,head_length=9', mutation_scale=1.0, shrinkA=0, shrinkB=0))

fig.savefig('out.png', dpi=100)
